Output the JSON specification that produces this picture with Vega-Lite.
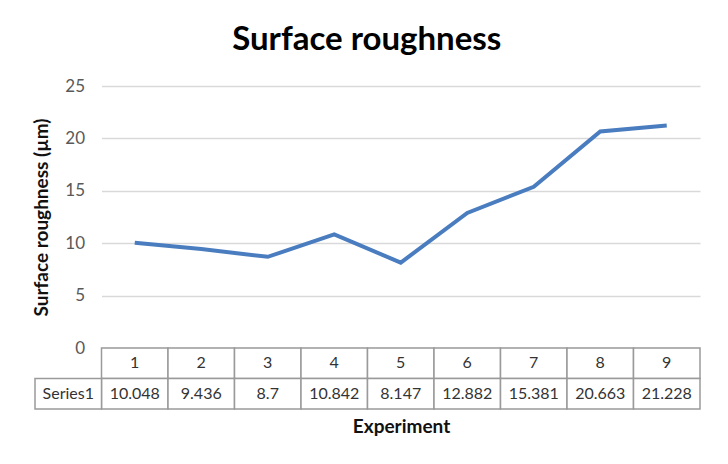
{
  "$schema": "https://vega.github.io/schema/vega-lite/v6.json",
  "background": "white",
  "padding": {"left": 32, "top": 24, "right": 20, "bottom": 10},
  "title": {"text": "Surface roughness", "fontSize": 33, "font": "Lato", "fontWeight": "bold", "color": "#000000", "anchor": "middle", "offset": 20},
  "config": {"view": {"stroke": null}, "font": "Lato"},
  "datasets": {
    "rough": [
      {"exp": "1", "value": 10.048},
      {"exp": "2", "value": 9.436},
      {"exp": "3", "value": 8.7},
      {"exp": "4", "value": 10.842},
      {"exp": "5", "value": 8.147},
      {"exp": "6", "value": 12.882},
      {"exp": "7", "value": 15.381},
      {"exp": "8", "value": 20.663},
      {"exp": "9", "value": 21.228}
    ],
    "series": [{"series": "Series1"}]
  },
  "bounds": "flush",
  "spacing": 0,
  "resolve": {"scale": {"x": "shared", "y": "independent"}, "axis": {"x": "independent", "y": "independent"}},
  "vconcat": [
    {
      "width": 665,
      "height": 262,
      "data": {"name": "rough"},
      "mark": {"type": "line", "color": "#4a7dbf", "strokeWidth": 4},
      "encoding": {
        "x": {"field": "exp", "type": "nominal", "scale": {"type": "band", "domain": ["Series1","1","2","3","4","5","6","7","8","9"], "paddingInner": 0, "paddingOuter": 0}, "axis": null},
        "y": {"field": "value", "type": "quantitative", "scale": {"domain": [0, 25], "nice": false},
          "axis": {"values": [0, 5, 10, 15, 20, 25], "offset": -66.5, "grid": true, "gridColor": "#d9d9d9", "gridWidth": 1.5, "gridDash": [0, 66.5, 600, 100], "domain": false, "ticks": false,
            "labelFontSize": 17, "labelColor": "#595959", "labelPadding": 17,
            "title": "Surface roughness (µm)", "titleFontSize": 19, "titleFontWeight": "bold", "titleColor": "#111111", "titlePadding": 13}}
      }
    },
    {
      "width": 665,
      "height": 61,
      "layer": [
        {
          "data": {"name": "rough"},
          "mark": {"type": "rect", "fill": "white", "stroke": "#9a9a9a", "strokeWidth": 1.5},
          "encoding": {
            "x": {"field": "exp", "type": "nominal",
              "axis": {"labels": false, "ticks": false, "domain": false, "title": "Experiment", "titleFontSize": 19, "titleFontWeight": "bold", "titleColor": "#111111", "titleX": 366, "titlePadding": 8}},
            "y": {"datum": "h", "type": "nominal", "scale": {"type": "band", "domain": ["h", "v"], "paddingInner": 0, "paddingOuter": 0}, "axis": null}
          }
        },
        {
          "data": {"name": "rough"},
          "mark": {"type": "rect", "fill": "white", "stroke": "#9a9a9a", "strokeWidth": 1.5},
          "encoding": {
            "x": {"field": "exp", "type": "nominal"},
            "y": {"datum": "v", "type": "nominal"}
          }
        },
        {
          "data": {"name": "series"},
          "mark": {"type": "rect", "fill": "white", "stroke": "#9a9a9a", "strokeWidth": 1.5},
          "encoding": {
            "x": {"field": "series", "type": "nominal"},
            "y": {"datum": "v", "type": "nominal"}
          }
        },
        {
          "data": {"name": "rough"},
          "mark": {"type": "text", "fontSize": 16, "color": "#333333"},
          "encoding": {
            "x": {"field": "exp", "type": "nominal"},
            "y": {"datum": "h", "type": "nominal"},
            "text": {"field": "exp", "type": "nominal"}
          }
        },
        {
          "data": {"name": "rough"},
          "mark": {"type": "text", "fontSize": 16, "color": "#333333"},
          "encoding": {
            "x": {"field": "exp", "type": "nominal"},
            "y": {"datum": "v", "type": "nominal"},
            "text": {"field": "value", "type": "nominal"}
          }
        },
        {
          "data": {"name": "series"},
          "mark": {"type": "text", "fontSize": 16, "color": "#333333"},
          "encoding": {
            "x": {"field": "series", "type": "nominal"},
            "y": {"datum": "v", "type": "nominal"},
            "text": {"field": "series", "type": "nominal"}
          }
        }
      ]
    }
  ]
}
